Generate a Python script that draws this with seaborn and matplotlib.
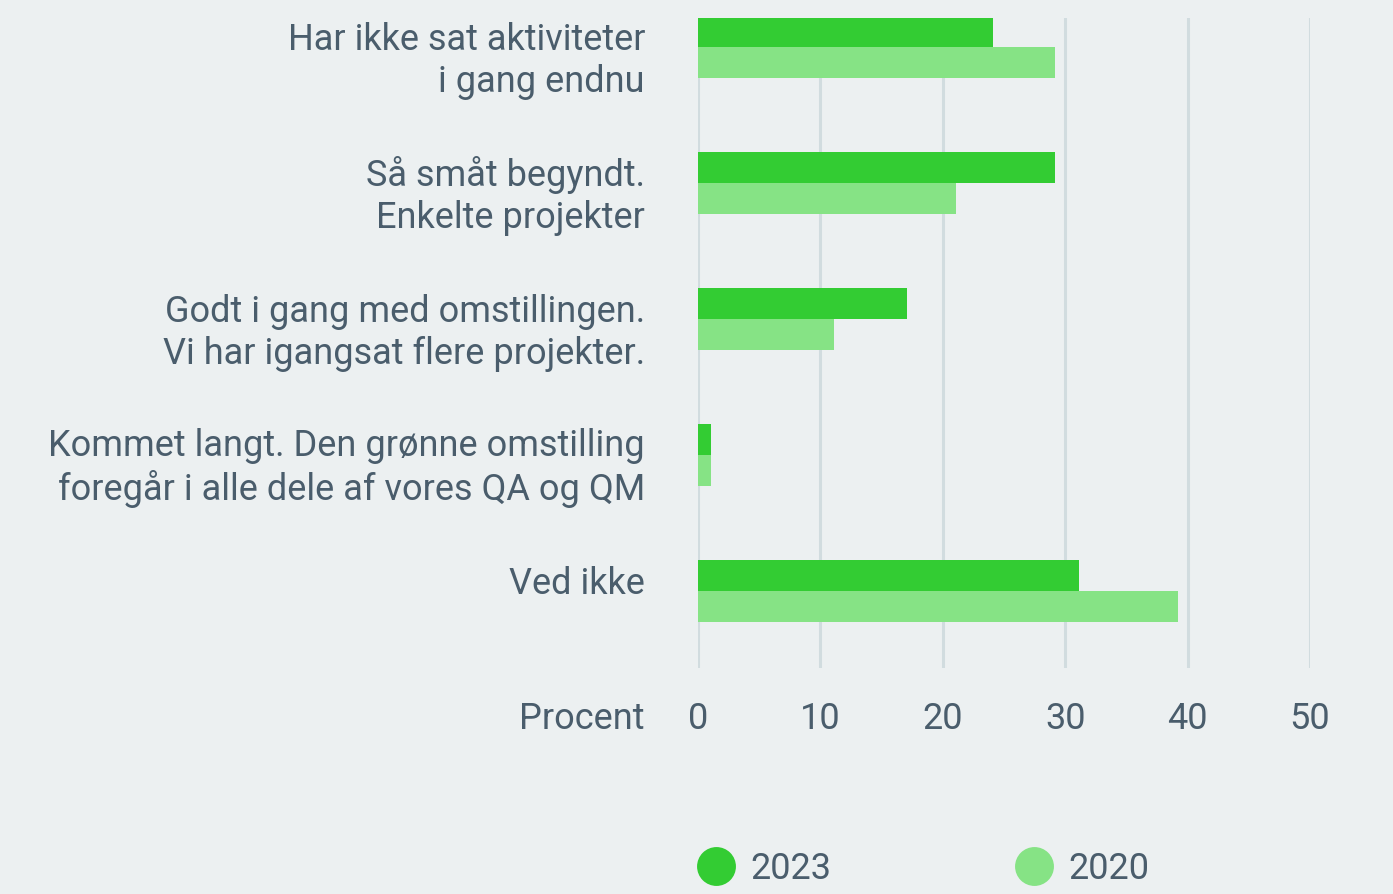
import matplotlib
matplotlib.use("Agg")
import matplotlib.pyplot as plt
import matplotlib.transforms as mtransforms
from matplotlib.lines import Line2D
import seaborn as sns
import pandas as pd

categories = [
    "Har ikke sat aktiviteter\ni gang endnu",
    "Så småt begyndt.\nEnkelte projekter",
    "Godt i gang med omstillingen.\nVi har igangsat flere projekter.",
    "Kommet langt. Den grønne omstilling\nforegår i alle dele af vores QA og QM",
    "Ved ikke",
]
values_2023 = [24.1, 29.2, 17.1, 1.1, 31.1]
values_2020 = [29.2, 21.1, 11.1, 1.1, 39.2]
years = ["2023", "2020"]
x_ticks = [0, 10, 20, 30, 40, 50]
x_label = "Procent"

BG = "#ECF0F1"
TEXT = "#4A5D6C"
GRID = "#D1DCDF"
palette = {"2023": "#33CC33", "2020": "#86E385"}

df = pd.DataFrame({
    "kategori": categories * 2,
    "procent": values_2023 + values_2020,
    "aar": [years[0]] * len(categories) + [years[1]] * len(categories),
})

sns.set_theme(style="white")
plt.rcParams["font.family"] = ["Roboto", "DejaVu Sans"]

fig = plt.figure(figsize=(13.93, 8.94), dpi=100, facecolor=BG)
ax = fig.add_axes([698 / 1393, 1 - 668 / 894, 612 / 1393, 650 / 894])
ax.set_facecolor(BG)

sns.barplot(data=df, y="kategori", x="procent", hue="aar", orient="h",
            palette=palette, width=0.45, saturation=1, ax=ax, legend=False,
            linewidth=0, edgecolor="none", zorder=3)

ax.set_xlim(0, 50)
ax.set_ylim(4.566, -0.213)
ax.set_xticks(x_ticks)
ax.set_xticklabels([str(t) for t in x_ticks], fontsize=26, color=TEXT)
ax.tick_params(axis="x", length=0, pad=24)
ax.set_yticks([])
ax.set_xlabel("")
ax.set_ylabel("")
for s in ax.spines.values():
    s.set_visible(False)
ax.grid(axis="x", color=GRID, linewidth=2.2, zorder=0)
ax.set_axisbelow(True)

# Category labels, right aligned left of the axis; first line sits just
# above the centre of its bar pair
px_per_unit = 650 / (4.566 + 0.213)
line_gap = 42
trans = mtransforms.blended_transform_factory(ax.transAxes, ax.transData)
for i, lab in enumerate(categories):
    n_lines = lab.count("\n") + 1
    y = i + (3 + line_gap * (n_lines - 1)) / px_per_unit
    ax.text(-53 / 612, y, lab, transform=trans, ha="right",
            va="baseline", fontsize=26, color=TEXT, linespacing=1.21,
            multialignment="right")

fig.text(645 / 1393, 1 - 719 / 894, x_label, ha="right", va="center",
         fontsize=26, color=TEXT)

handles = [Line2D([], [], marker="o", linestyle="", markersize=28,
                  markerfacecolor=palette[y], markeredgewidth=0) for y in years]
leg = fig.legend(handles, years, loc="center left",
                 bbox_to_anchor=(698 / 1393, 1 - 869 / 894), ncol=2,
                 frameon=False, fontsize=26, handlelength=1.0,
                 handletextpad=0.45, columnspacing=5.1, borderpad=0,
                 borderaxespad=0)
for t in leg.get_texts():
    t.set_color(TEXT)

fig.savefig("out.png", dpi=100, facecolor=BG)
